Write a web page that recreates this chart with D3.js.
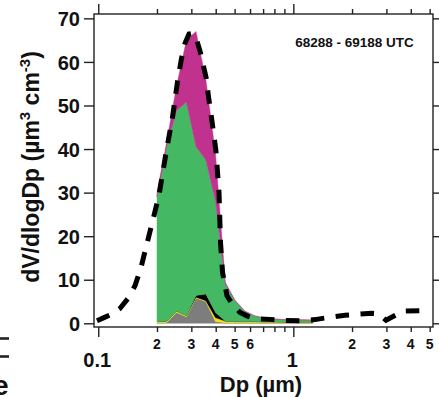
<!DOCTYPE html>
<html>
<head>
<meta charset="utf-8">
<script src="https://cdn.jsdelivr.net/npm/d3@7"></script>
<style>
  body { margin: 0; background: #fff; }
  svg { display: block; }
  text { font-family: "Liberation Sans", Arial, sans-serif; font-weight: bold; fill: #111; }
</style>
</head>
<body>
<svg id="chart" width="439" height="397"></svg>
<script>
// Total volume size distribution (dashed curve): diameter (µm) and dV/dlogDp
const totalDp = [0.0985, 0.1070, 0.1176, 0.1292, 0.1420, 0.1543, 0.1656, 0.1777, 0.1908, 0.2048,
  0.2225, 0.2402, 0.2549, 0.2671, 0.2784, 0.2919, 0.3060, 0.3208, 0.3324, 0.3568,
  0.3675, 0.3830, 0.4006, 0.4160, 0.4234, 0.4335, 0.4571, 0.4906, 0.5329, 0.5857,
  0.6512, 0.7593, 0.9065, 1.0819, 1.2913, 1.5413, 1.8400, 2.1970, 2.5308, 2.7169,
  2.9862, 3.6504, 4.9020];
const totalDV = [0.6, 1.3, 2.1, 3.4, 5.7, 8.6, 12.8, 18.3, 23.8, 29.4,
  39.1, 47.3, 55.5, 60.8, 64.3, 66.4, 66.6, 64.8, 62.5, 56.5,
  52.0, 46.3, 39.8, 30.0, 18.5, 11.7, 6.3, 4.2, 2.5, 1.6,
  1.0, 0.9, 0.65, 0.6, 0.85, 1.4, 1.85, 2.1, 2.3, 2.2,
  0.7, 2.8, 2.9];

// Composition-resolved distribution on size bins (µm)
const binDp = [0.200, 0.224, 0.252, 0.283, 0.317, 0.356, 0.399, 0.448, 0.502,
  0.564, 0.632, 0.710, 0.796, 0.893, 1.002, 1.125, 1.262];
const grayDV    = [0.1, 0.2, 2.5, 1.5, 5.8, 5.0, 0.4, 0.1, 0.1, 0.1, 0.1, 0.1, 0.1, 0.1, 0.1, 0.1, 0.1];
const yellowDV  = [0.3, 0.3, 0.3, 0.3, 0.2, 0.2, 0.9, 0.4, 0.3, 0.3, 0.3, 0.25, 0.25, 0.2, 0.2, 0.2, 0.2];
const blackDV   = [0, 0, 0, 0, 0.4, 1.5, 1.2, 0, 0, 0, 0, 0, 0, 0, 0, 0, 0];
const greenDV   = [28.6, 40.0, 46.0, 49.0, 34.1, 30.8, 25.5, 8.5, 4.8, 2.35, 1.3, 0.8, 0.6, 0.55, 0.5, 0.45, 0.4];
const magentaDV = [1.0, 1.0, 5.7, 14.2, 26.5, 18.5, 11.0, 0.4, 0.1, 0.1, 0.05, 0.05, 0.05, 0.05, 0.05, 0.05, 0.05];

const layerKeys   = ["gray", "yellow", "black", "green", "magenta"];
const layerColors = { gray: "#7d7d7d", yellow: "#f2e205", black: "#000000", green: "#45b864", magenta: "#c0328e" };

// Axis ticks
const yTicks = [0, 10, 20, 30, 40, 50, 60, 70];
const xMajor = [0.1, 1];
const xMajorLabels = ["0.1", "1"];
const xMinor = [0.2, 0.3, 0.4, 0.5, 0.6, 0.7, 0.8, 0.9, 2, 3, 4, 5];
const xMinorLabelled = [0.2, 0.3, 0.4, 0.5, 0.6, 2, 3, 4, 5];
const xMinorLabels = ["2", "3", "4", "5", "6", "2", "3", "4", "5"];
const timeLabel = "68288 - 69188 UTC";

const svg = d3.select("#chart");
const L = 94, R = 433, T = 14, B = 327;

const x = d3.scaleLog().domain([0.0951, 5.2]).range([L, R]);
const y = d3.scaleLinear().domain([-0.85, 71]).range([B, T]);

// Stacked composition areas
const rows = binDp.map((dp, i) => ({
  dp, gray: grayDV[i], yellow: yellowDV[i], black: blackDV[i], green: greenDV[i], magenta: magentaDV[i]
}));
const series = d3.stack().keys(layerKeys)(rows);
const area = d3.area()
  .x(d => x(d.data.dp))
  .y0(d => y(d[0]))
  .y1(d => y(d[1]));

svg.append("g").selectAll("path")
  .data(series)
  .join("path")
  .attr("d", area)
  .attr("fill", s => layerColors[s.key])
  .attr("stroke", s => layerColors[s.key])
  .attr("stroke-width", 0.4);

// Total distribution, thick dashed line
const line = d3.line().x((d, i) => x(totalDp[i])).y(d => y(d));
svg.append("path")
  .attr("d", line(totalDV))
  .attr("fill", "none")
  .attr("stroke", "#000")
  .attr("stroke-width", 5)
  .attr("stroke-dasharray", "13.5,11.5");

// Frame and ticks
const axisColor = "#222";
const frame = svg.append("g").attr("stroke", axisColor).attr("stroke-width", 1.4).attr("fill", "none");
frame.append("rect").attr("x", L).attr("y", T).attr("width", R - L).attr("height", B - T);

const yAxisL = d3.axisLeft(y).tickValues(yTicks).tickSize(10).tickFormat(d3.format("d")).tickPadding(4);
const gyl = svg.append("g").attr("transform", `translate(${L},0)`).call(yAxisL);
gyl.select(".domain").remove();
gyl.selectAll("line").attr("stroke", axisColor).attr("stroke-width", 1.4);
gyl.selectAll("text").style("font-size", "20px").attr("fill", "#111").attr("dy", "0.36em");

const yAxisR = d3.axisRight(y).tickValues(yTicks).tickSize(10).tickFormat("");
const gyr = svg.append("g").attr("transform", `translate(${R},0)`).call(yAxisR);
gyr.select(".domain").remove();
gyr.selectAll("line").attr("stroke", axisColor).attr("stroke-width", 1.4);

function logTicks(g, axisFn, vals, size) {
  const a = axisFn(x).tickValues(vals).tickSize(size).tickFormat("");
  g.call(a);
  g.select(".domain").remove();
  g.selectAll("line").attr("stroke", axisColor).attr("stroke-width", 1.4);
}
logTicks(svg.append("g").attr("transform", `translate(0,${B})`), d3.axisBottom, xMajor, 10);
logTicks(svg.append("g").attr("transform", `translate(0,${B})`), d3.axisBottom, xMinor, 5);
logTicks(svg.append("g").attr("transform", `translate(0,${T})`), d3.axisTop, xMajor, 10);
logTicks(svg.append("g").attr("transform", `translate(0,${T})`), d3.axisTop, xMinor, 5);

// X tick labels
svg.append("g").selectAll("text")
  .data(xMinorLabelled)
  .join("text")
  .attr("x", d => x(d))
  .attr("y", 349)
  .attr("text-anchor", "middle")
  .style("font-size", "14px")
  .text((d, i) => xMinorLabels[i]);

svg.append("g").selectAll("text")
  .data(xMajor)
  .join("text")
  .attr("x", d => x(d) - 1)
  .attr("y", 367)
  .attr("text-anchor", "middle")
  .style("font-size", "20px")
  .text((d, i) => xMajorLabels[i]);

// Axis titles
svg.append("text")
  .attr("x", 261).attr("y", 392)
  .attr("text-anchor", "middle")
  .style("font-size", "22px")
  .text("Dp (\u00b5m)");

const yTitle = svg.append("text")
  .attr("text-anchor", "middle")
  .style("font-size", "23px")
  .attr("transform", "translate(39,167) rotate(-90)");
yTitle.append("tspan").text("dV/dlogDp (\u00b5m");
yTitle.append("tspan").attr("dy", -9).style("font-size", "15px").text("3");
yTitle.append("tspan").attr("dy", 9).text(" cm");
yTitle.append("tspan").attr("dy", -9).style("font-size", "15px").text("-3");
yTitle.append("tspan").attr("dy", 9).text(")");

// Sampling interval annotation
svg.append("text")
  .attr("x", 354.5).attr("y", 46.5)
  .attr("text-anchor", "middle")
  .style("font-size", "13.5px")
  .text(timeLabel);

// Edge of the neighbouring panel
const edge = svg.append("g").attr("stroke", "#222").attr("stroke-width", 2.6);
edge.append("line").attr("x1", 0).attr("x2", 9).attr("y1", 338.5).attr("y2", 338.5);
edge.append("line").attr("x1", 0).attr("x2", 9).attr("y1", 356.5).attr("y2", 356.5);
svg.append("text").attr("x", -7).attr("y", 395).style("font-size", "28px").text("e");
</script>
</body>
</html>
